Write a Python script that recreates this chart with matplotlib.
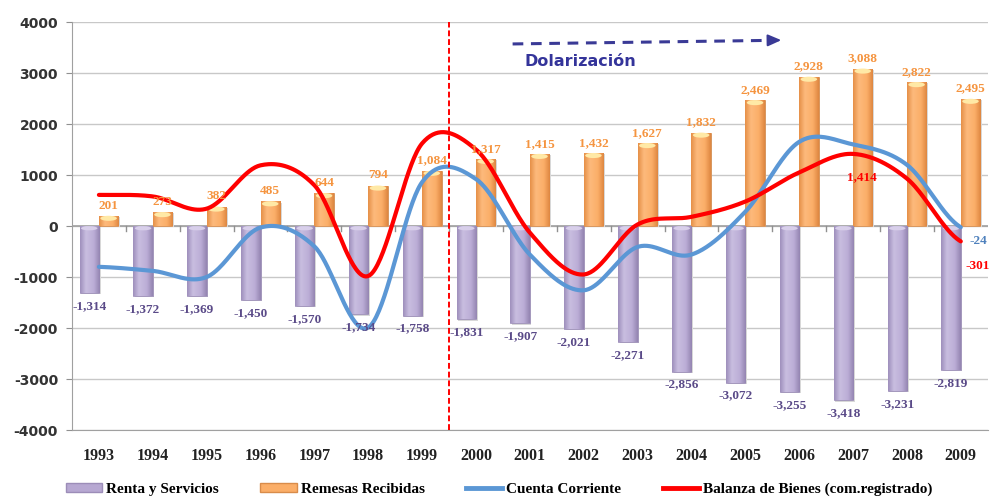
import numpy as np
import matplotlib
matplotlib.use("Agg")
import matplotlib.pyplot as plt
from matplotlib.colors import LinearSegmentedColormap
from matplotlib.patches import Patch, Ellipse
from matplotlib.lines import Line2D

# ---------------- data ----------------
years = ["1993", "1994", "1995", "1996", "1997", "1998", "1999", "2000", "2001",
         "2002", "2003", "2004", "2005", "2006", "2007", "2008", "2009"]
renta = [-1314, -1372, -1369, -1450, -1570, -1734, -1758, -1831, -1907,
         -2021, -2271, -2856, -3072, -3255, -3418, -3231, -2819]
remesas = [201, 273, 382, 485, 644, 794, 1084, 1317, 1415,
           1432, 1627, 1832, 2469, 2928, 3088, 2822, 2495]
cuenta = [-800, -880, -1000, -30, -400, -1990, 860, 920, -560,
          -1260, -410, -560, 280, 1650, 1600, 1200, -24]
balanza = [610, 580, 340, 1190, 800, -980, 1620, 1500, -130,
           -950, 30, 180, 480, 1050, 1414, 930, -301]
yticks = [-4000, -3000, -2000, -1000, 0, 1000, 2000, 3000, 4000]

PURPLE = "#B7A8D2"
ORANGE = "#FBAE68"
BLUE = "#5B97D5"
RED = "#FF0000"


def catmull(y, n=40):
    y = np.asarray(y, float)
    p = np.concatenate([[y[0]], y, [y[-1]]])
    xs, ys = [], []
    for i in range(len(y) - 1):
        p0, p1, p2, p3 = p[i], p[i + 1], p[i + 2], p[i + 3]
        m1 = (p2 - p0) / 2.0
        m2 = (p3 - p1) / 2.0
        t = np.linspace(0, 1, n, endpoint=False)
        h00 = 2 * t**3 - 3 * t**2 + 1
        h10 = t**3 - 2 * t**2 + t
        h01 = -2 * t**3 + 3 * t**2
        h11 = t**3 - t**2
        xs.append(i + t)
        ys.append(h00 * p1 + h10 * m1 + h01 * p2 + h11 * m2)
    xs.append([len(y) - 1])
    ys.append([y[-1]])
    return np.concatenate(xs), np.concatenate(ys)


def gradient_fill(ax, bars, cmap):
    grad = np.linspace(0, 1, 128).reshape(1, -1)
    for b in bars:
        x, y = b.get_x(), b.get_y()
        w, h = b.get_width(), b.get_height()
        im = ax.imshow(grad, extent=[x, x + w, y, y + h], cmap=cmap,
                       aspect="auto", zorder=b.get_zorder(),
                       interpolation="bicubic", origin="lower")
        im.set_clip_path(b)
        b.set_facecolor("none")


fig = plt.figure(figsize=(9.9, 4.97), dpi=100)
ax = fig.add_axes([0.0727, 0.1348, 0.925, 0.8209])

x = np.arange(len(years))
bw = 0.36

# grid
for v in yticks:
    ax.axhline(v, color="#C8C8C8", lw=1.0, zorder=0)
ax.axhline(0, color="#A0A0A0", lw=1.2, zorder=1)

# shadows
ax.bar(x - bw / 2 + 0.03, renta, bw, bottom=-25, color="#D8D8D8", zorder=2, lw=0)
ax.bar(x + bw / 2 + 0.03, remesas, bw, bottom=-25, color="#D8D8D8", zorder=2, lw=0)

b1 = ax.bar(x - bw / 2, renta, bw, color=PURPLE, zorder=3,
            edgecolor="#9C8DB8", linewidth=0.6)
b2 = ax.bar(x + bw / 2, remesas, bw, color=ORANGE, zorder=3,
            edgecolor="#D98C4A", linewidth=0.6)
cm_p = LinearSegmentedColormap.from_list(
    "p", [(0, "#9D8EBB"), (0.3, "#C9BEE0"), (0.7, "#BBADD6"), (1, "#9384B0")])
cm_o = LinearSegmentedColormap.from_list(
    "o", [(0, "#E58F47"), (0.3, "#FDBA7C"), (0.7, "#FBAE68"), (1, "#DD8640")])
gradient_fill(ax, b1, cm_p)
gradient_fill(ax, b2, cm_o)

# top caps on bars
for xi, v in zip(x, remesas):
    ax.add_patch(Ellipse((xi + bw / 2, v - 50), bw * 0.85, 100,
                         color="#FFE9A6", zorder=4, lw=0))
for xi in x:
    ax.add_patch(Ellipse((xi - bw / 2, -45), bw * 0.85, 80,
                         color="#D8CFEA", zorder=4, lw=0))

# lines
xs, ys = catmull(cuenta)
ax.plot(xs, ys, color=BLUE, lw=3.0, zorder=6, solid_capstyle="round")
xs, ys = catmull(balanza)
ax.plot(xs, ys, color=RED, lw=3.0, zorder=7, solid_capstyle="round")

# tick marks on zero line
for b in np.arange(len(years) - 1) + 0.5:
    ax.plot([b, b], [0, -90], color="#909090", lw=1.0, zorder=2)

# vertical dashed line
ax.axvline(6.5, color=RED, lw=1.4, ls=(0, (3, 1.5)), zorder=8)

# data labels
lab_font = dict(family="Liberation Serif", weight="bold", fontsize=9.5)
for xi, v in zip(x, renta):
    ax.annotate(f"{v:,}", (xi - bw / 2, v), xytext=(0, -5),
                textcoords="offset points", ha="center", va="top",
                color="#5A4A88", zorder=9, **lab_font)
for xi, v in zip(x, remesas):
    ax.annotate(f"{v:,}", (xi + bw / 2, v), xytext=(0, 3),
                textcoords="offset points", ha="center", va="bottom",
                color="#F5943F", zorder=9, **lab_font)
ax.annotate(f"{balanza[14]:,}", (x[14], balanza[14]), xytext=(6, -17),
            textcoords="offset points", ha="center", va="center",
            color=RED, zorder=9, **lab_font)
ax.annotate(f"{balanza[16]:,}", (x[16], balanza[16]), xytext=(12, -18),
            textcoords="offset points", ha="center", va="center",
            color=RED, zorder=9, **lab_font)
ax.annotate(f"{cuenta[16]:,}", (x[16], cuenta[16]), xytext=(13, -10),
            textcoords="offset points", ha="center", va="center",
            color="#4F81BD", zorder=9, **lab_font)

# Dolarizacion arrow
ax.plot([7.68, 12.45], [3570, 3640], color="#3A3A96", lw=2.2,
        ls=(0, (3.5, 2.5)), zorder=9)
ax.annotate("", xy=(12.72, 3645), xytext=(12.4, 3640),
            arrowprops=dict(arrowstyle="-|>,head_length=0.8,head_width=0.35",
                            color="#3A3A96", lw=1.5), zorder=9)
ax.text(7.9, 3230, "Dolarización", fontsize=11.5, fontweight="bold",
        color="#34349A", ha="left", va="center", family="DejaVu Sans",
        zorder=9)

# axes
ax.set_xlim(-0.5, len(years) - 0.5)
ax.set_ylim(-4000, 4000)
ax.set_yticks(yticks)
ax.set_yticklabels([str(v) for v in yticks], fontsize=10,
                   fontweight="bold", color="#333333")
ax.set_xticks(x)
ax.set_xticklabels(years, family="Liberation Serif", fontweight="bold",
                   fontsize=11.5, color="#222222")
ax.tick_params(axis="x", length=0, pad=13)
ax.tick_params(axis="y", length=4, color="#909090", pad=6)
for s in ["top", "right"]:
    ax.spines[s].set_visible(False)
for s in ["left", "bottom"]:
    ax.spines[s].set_color("#A0A0A0")
ax.set_facecolor("white")

# legend
handles = [Patch(facecolor=PURPLE, edgecolor="#9C8DB8"),
           Patch(facecolor=ORANGE, edgecolor="#D98C4A"),
           Line2D([0], [0], color=BLUE, lw=3.5),
           Line2D([0], [0], color=RED, lw=3.5)]
labels = ["Renta y Servicios", "Remesas Recibidas", "Cuenta Corriente",
          "Balanza de Bienes (com.registrado)"]
fig.legend(handles, labels, loc="center", bbox_to_anchor=(0.504, 0.016),
           ncol=4, frameon=False, handlelength=2.4, handleheight=0.55,
           handletextpad=0.25, columnspacing=2.7,
           prop=dict(family="Liberation Serif", weight="bold", size=11))

fig.savefig("out.png", dpi=100)
